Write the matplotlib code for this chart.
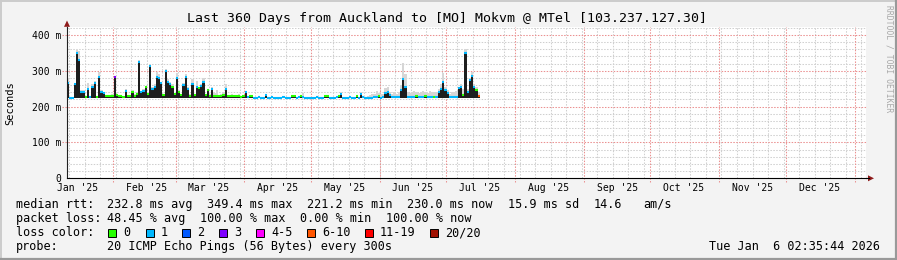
import numpy as np
import matplotlib
matplotlib.use("Agg")
import matplotlib.pyplot as plt
from matplotlib.patches import Polygon, Rectangle
from matplotlib.lines import Line2D
from datetime import datetime, timedelta

# ---------------- data ----------------
title = "Last 360 Days from Auckland to [MO] Mokvm @ MTel [103.237.127.30]"
end_time = datetime(2026, 1, 6, 2, 35, 44)
span_days = 360
step_days = 1.0

# daily median rtt (ms) from the start of the window
median_ms = [
    265, 225, 225, 262, 350, 330, 242, 242, 228, 248,
    226, 254, 265, 227, 284, 240, 237, 229, 229, 230,
    231, 282, 232, 229, 229, 228, 244, 229, 230, 242,
    230, 236, 325, 240, 244, 254, 236, 313, 250, 254,
    282, 280, 265, 232, 300, 270, 262, 256, 234, 279,
    240, 232, 260, 284, 250, 230, 262, 232, 255, 251,
    258, 268, 232, 246, 230, 250, 230, 231, 229, 229,
    232, 250, 229, 229, 230, 229, 229, 230, 228, 229,
    240, 226, 230, 230, 225, 225, 226, 225, 225, 233,
    225, 225, 226, 225, 225, 225, 225, 226, 225, 225,
    225, 229, 229, 225, 226, 229, 226, 225, 225, 225,
    225, 225, 226, 225, 225, 225, 229, 229, 225, 225,
    225, 226, 229, 236, 225, 225, 225, 226, 225, 225,
    229, 225, 236, 226, 225, 225, 225, 225, 226, 226,
    229, 225, 226, 237, 242, 232, 226, 226, 227, 226,
    246, 276, 256, 226, 226, 227, 226, 229, 226, 226,
    227, 229, 226, 227, 226, 228, 226, 242, 248, 270,
    246, 238, 227, 226, 227, 226, 251, 256, 232, 350,
    240, 274, 285, 256, 246, 230,
]

# loss class index per day (0 -> "0", 1 -> "1", 3 -> "3", 5 -> "6-10")
loss_idx = [
    1, 1, 1, 1, 1, 1, 1, 1, 0, 1,
    1, 1, 1, 0, 1, 1, 1, 0, 0, 0,
    0, 3, 0, 0, 0, 0, 1, 0, 0, 0,
    0, 0, 1, 1, 1, 0, 0, 1, 1, 1,
    1, 1, 1, 0, 1, 1, 1, 0, 0, 1,
    0, 0, 1, 1, 1, 0, 1, 0, 1, 0,
    1, 1, 0, 0, 0, 1, 0, 0, 0, 0,
    0, 1, 0, 0, 0, 0, 0, 0, 0, 0,
    1, 1, 0, 0, 1, 1, 1, 1, 1, 1,
    1, 1, 1, 1, 1, 1, 1, 1, 1, 1,
    1, 0, 0, 1, 1, 0, 1, 1, 1, 1,
    1, 1, 1, 1, 1, 1, 0, 0, 1, 1,
    1, 1, 0, 1, 1, 1, 1, 1, 1, 1,
    0, 1, 1, 1, 1, 1, 1, 1, 1, 1,
    0, 1, 1, 1, 1, 1, 1, 1, 1, 1,
    1, 1, 1, 1, 1, 1, 1, 0, 1, 1,
    1, 0, 1, 1, 1, 0, 1, 1, 1, 1,
    1, 1, 1, 1, 1, 1, 1, 1, 0, 1,
    1, 1, 1, 1, 0, 5,
]

# top of the light smoke (ms)
smoke_top_ms = [
    281, 227, 227, 266, 358, 356, 246, 246, 230, 265,
    230, 262, 272, 230, 297, 246, 240, 232, 232, 233,
    234, 284, 236, 232, 232, 231, 248, 232, 233, 246,
    234, 240, 330, 244, 248, 258, 240, 318, 256, 262,
    297, 292, 270, 236, 306, 276, 268, 262, 238, 294,
    246, 236, 266, 290, 256, 234, 278, 236, 272, 256,
    262, 280, 236, 250, 234, 254, 238, 246, 232, 236,
    240, 262, 232, 232, 234, 232, 232, 234, 231, 232,
    242, 228, 232, 232, 228, 228, 229, 228, 228, 236,
    227, 227, 229, 227, 227, 227, 228, 229, 227, 227,
    228, 231, 232, 228, 230, 231, 238, 228, 227, 227,
    228, 227, 229, 227, 228, 227, 231, 232, 228, 227,
    228, 230, 232, 240, 228, 228, 228, 229, 228, 228,
    232, 228, 242, 230, 228, 230, 232, 234, 236, 243,
    238, 234, 236, 252, 255, 242, 236, 240, 236, 240,
    260, 322, 290, 242, 238, 242, 244, 240, 238, 242,
    244, 240, 238, 244, 240, 242, 240, 250, 262, 293,
    255, 246, 236, 240, 242, 244, 256, 262, 248, 361,
    250, 280, 297, 262, 254, 240,
]

loss_labels = ["0", "1", "2", "3", "4-5", "6-10", "11-19", "20/20"]
loss_colors = ["#26ff00", "#00b8ff", "#0059ff", "#7e00ff",
               "#ff00ff", "#ff5500", "#ff0000", "#a01000"]

month_labels = ["Jan '25", "Feb '25", "Mar '25", "Apr '25", "May '25", "Jun '25",
                "Jul '25", "Aug '25", "Sep '25", "Oct '25", "Nov '25", "Dec '25"]
y_ticks = [0, 100, 200, 300, 400]
y_tick_labels = ["0", "100 m", "200 m", "300 m", "400 m"]
y_label = "Seconds"

legend_rtt = ["median rtt:", "232.8 ms avg", "349.4 ms max", "221.2 ms min",
              "230.0 ms now", "15.9 ms sd", "14.6", "am/s"]
legend_loss = ["packet loss:", "48.45 % avg", "100.00 % max", "0.00 % min", "100.00 % now"]
legend_color_head = "loss color:"
probe_head = "probe:"
probe_text = "20 ICMP Echo Pings (56 Bytes) every 300s"
stamp_text = "Tue Jan  6 02:35:44 2026"
watermark = "RRDTOOL / TOBI OETIKER"

# ---------------- layout ----------------
W, H, DPI = 897, 260, 100
L, R, T, B = 67, 866, 27.1, 178.3
MONO = "DejaVu Sans Mono"
plt.rcParams["font.family"] = [MONO]

ref = datetime(2025, 1, 1)
def dnum(dt):
    return (dt - ref).total_seconds() / 86400.0

x_end = dnum(end_time)
x_start = x_end - span_days

fig = plt.figure(figsize=(W / DPI, H / DPI), dpi=DPI, facecolor="#f3f3f3")

def fx(px):
    return px / W
def fy(py):
    return 1 - py / H

# border shading
fig.add_artist(Line2D([0, 1], [fy(0.5), fy(0.5)], color="#cbcbcb", lw=1.4, transform=fig.transFigure))
fig.add_artist(Line2D([fx(0.5), fx(0.5)], [0, 1], color="#cbcbcb", lw=1.4, transform=fig.transFigure))
fig.add_artist(Line2D([0, 1], [fy(H - 1), fy(H - 1)], color="#999999", lw=1.6, transform=fig.transFigure))
fig.add_artist(Line2D([fx(W - 1), fx(W - 1)], [0, 1], color="#999999", lw=1.6, transform=fig.transFigure))

ax = fig.add_axes([L / W, 1 - B / H, (R - L) / W, (B - T) / H])
ax.set_facecolor("white")
ax.set_xlim(x_start, x_end)
ax.set_ylim(0, 422)

grid_minor = "#cfcfcf"
grid_major = "#eb9090"
dots = (0, (1.4, 1.4))

# horizontal grid
for v in range(20, 421, 20):
    if v % 100 == 0:
        ax.axhline(v, xmin=-5 / (R - L), xmax=1, color=grid_major, lw=0.75, ls=dots, zorder=0.6, clip_on=False)
    else:
        ax.axhline(v, color=grid_minor, lw=0.75, ls=dots, zorder=0.5)

# vertical grid: weekly (Sundays) minor, month starts major
wk = datetime(2025, 1, 5)
while dnum(wk) < x_end:
    if dnum(wk) > x_start:
        ax.axvline(dnum(wk), color=grid_minor, lw=0.75, ls=dots, zorder=0.5)
    wk += timedelta(days=7)
month_starts = [datetime(2025, m, 1) for m in range(1, 13)] + [datetime(2026, 1, 1)]
for ms in month_starts:
    xv = dnum(ms)
    if x_start < xv < x_end:
        ax.axvline(xv, ymin=-4 / (B - T), ymax=1, color=grid_major, lw=0.75, ls=dots, zorder=0.6, clip_on=False)

# ---------------- data drawing ----------------
med = np.array(median_ms, dtype=float)
top = np.array(smoke_top_ms, dtype=float)
n = len(med)
t0 = np.array([x_start + i * step_days for i in range(n)])
base = med.min()

ax.bar(t0, top - base, width=step_days, bottom=base, align="edge",
       color="#d6d6d6", linewidth=0, zorder=2)
ax.bar(t0, med - base, width=step_days, bottom=base, align="edge",
       color="#1e1e1e", linewidth=0, zorder=3)
cols = [loss_colors[i] for i in loss_idx]
ax.hlines(med, t0, t0 + step_days, colors=cols, lw=1.5, zorder=4)

# ---------------- axes ----------------
for s in ["top", "right"]:
    ax.spines[s].set_visible(False)
ax.spines["left"].set_color("#202020")
ax.spines["bottom"].set_color("#000000")
ax.spines["left"].set_linewidth(0.8)
ax.spines["bottom"].set_linewidth(0.8)
ax.spines["left"].set_zorder(5)
ax.spines["bottom"].set_zorder(5)

label_pos = [dnum(datetime(2025, m, 1) + timedelta(days=15)) for m in range(1, 13)]
ax.set_xticks(label_pos)
ax.set_xticklabels(month_labels, fontsize=7, family=MONO, color="#000000")
ax.set_yticks(y_ticks)
ax.set_yticklabels(y_tick_labels, fontsize=7, family=MONO, color="#000000")
ax.tick_params(axis="x", length=0, pad=3.2)
ax.tick_params(axis="y", length=0, pad=4.3)

# arrows
fig.add_artist(Line2D([fx(R), fx(869)], [fy(B), fy(B)], color="black", lw=0.8, transform=fig.transFigure))
fig.add_artist(Polygon([(fx(868), fy(175.3)), (fx(868), fy(181.3)), (fx(874), fy(178.3))],
                       closed=True, color="#8e1a1a", transform=fig.transFigure, lw=0))
fig.add_artist(Polygon([(fx(64), fy(26.8)), (fx(70), fy(26.8)), (fx(67), fy(20.5))],
                       closed=True, color="#8e1a1a", transform=fig.transFigure, lw=0))

# ---------------- texts ----------------
fig.text(fx(447), fy(18.5), title, ha="center", va="center", fontsize=9.5, family=MONO)
fig.text(fx(10.5), fy(103), y_label, ha="center", va="center", rotation=90, fontsize=7.5, family=MONO)
fig.text(fx(888.5), fy(5), watermark, ha="center", va="top", rotation=-90, fontsize=5.8,
         family=MONO, color="#a8a8a8")

LS = 8.5
rows_y = [204.3, 218.5, 232.5, 246.8]
rtt_x = [16, 107, 207, 307, 407, 508, 594, 643]
for xx, s in zip(rtt_x, legend_rtt):
    fig.text(fx(xx), fy(rows_y[0]), s, ha="left", va="center", fontsize=LS, family=MONO)
loss_x = [16, 107, 200, 300, 386]
for xx, s in zip(loss_x, legend_loss):
    fig.text(fx(xx), fy(rows_y[1]), s, ha="left", va="center", fontsize=LS, family=MONO)
fig.text(fx(16), fy(rows_y[2]), legend_color_head, ha="left", va="center", fontsize=LS, family=MONO)
box_x = [108, 146, 182, 219, 256, 307, 365, 430]
for bx, lab, c in zip(box_x, loss_labels, loss_colors):
    fig.add_artist(Rectangle((fx(bx), fy(rows_y[2] + 4)), 8 / W, 8 / H, facecolor=c,
                             edgecolor="black", lw=0.7, transform=fig.transFigure))
    fig.text(fx(bx + 15), fy(rows_y[2]), lab, ha="left", va="center", fontsize=LS, family=MONO)
fig.text(fx(16), fy(rows_y[3]), probe_head, ha="left", va="center", fontsize=LS, family=MONO)
fig.text(fx(107), fy(rows_y[3]), probe_text, ha="left", va="center", fontsize=LS, family=MONO)
fig.text(fx(880), fy(rows_y[3]), stamp_text, ha="right", va="center", fontsize=LS, family=MONO)

fig.savefig("out.png", dpi=DPI, facecolor=fig.get_facecolor())
